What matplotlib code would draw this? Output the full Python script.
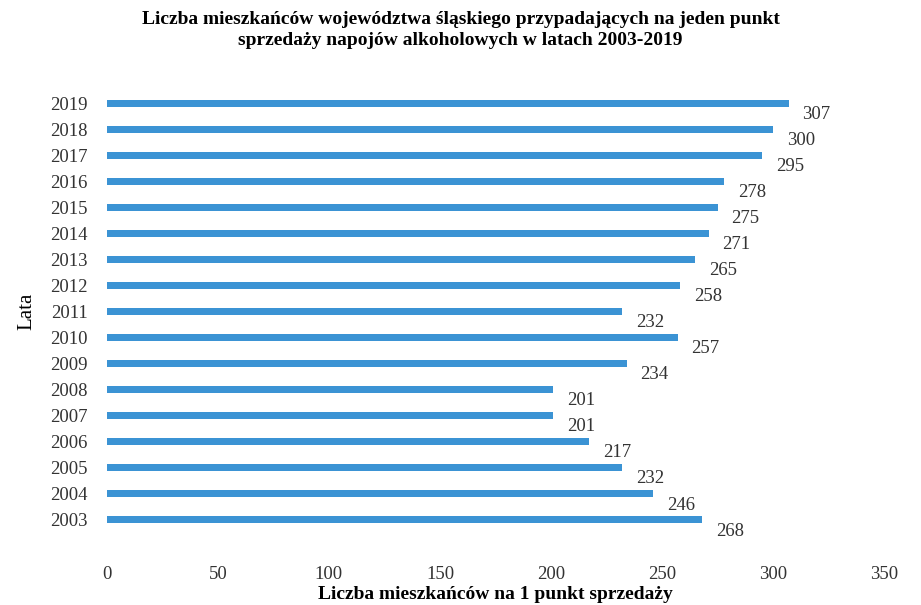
import numpy as np
import matplotlib.pyplot as plt

years = ["2003", "2004", "2005", "2006", "2007", "2008", "2009", "2010", "2011",
         "2012", "2013", "2014", "2015", "2016", "2017", "2018", "2019"]
values = [268, 246, 232, 217, 201, 201, 234, 257, 232,
          258, 265, 271, 275, 278, 295, 300, 307]
xticks = [0, 50, 100, 150, 200, 250, 300, 350]

plt.rcParams['font.family'] = ['Liberation Serif', 'DejaVu Serif']

fig = plt.figure(figsize=(9.21, 6.05), dpi=100)
ax = fig.add_axes([0.116, 0.119, 0.844, 0.732])

y = np.arange(len(years))
ax.barh(y, values, height=0.27, color="#3b93d4")

for yi, v in zip(y, values):
    ax.annotate(str(v), (v, yi), xytext=(10, -8), textcoords="offset points",
                ha="left", va="center", fontsize=13.5, color="#333333")

ax.set_xlim(0, 350)
ax.set_ylim(-0.5, len(years) - 0.5)
ax.set_yticks(y)
ax.set_yticklabels(years)
ax.set_xticks(xticks)
ax.tick_params(axis="both", length=0, labelsize=13.5, colors="#333333")
ax.tick_params(axis="x", pad=24)
ax.tick_params(axis="y", pad=14)
for s in ax.spines.values():
    s.set_visible(False)

ax.set_xlabel("Liczba mieszkańców na 1 punkt sprzedaży", fontsize=14,
              fontweight="bold", labelpad=2)
ax.set_ylabel("Lata", fontsize=15, labelpad=10)
fig.suptitle("Liczba mieszkańców województwa śląskiego przypadających na jeden punkt\n"
             "sprzedaży napojów alkoholowych w latach 2003-2019",
             fontsize=14, fontweight="bold", y=0.982, linespacing=1.35)

fig.savefig("out.png", dpi=100)
